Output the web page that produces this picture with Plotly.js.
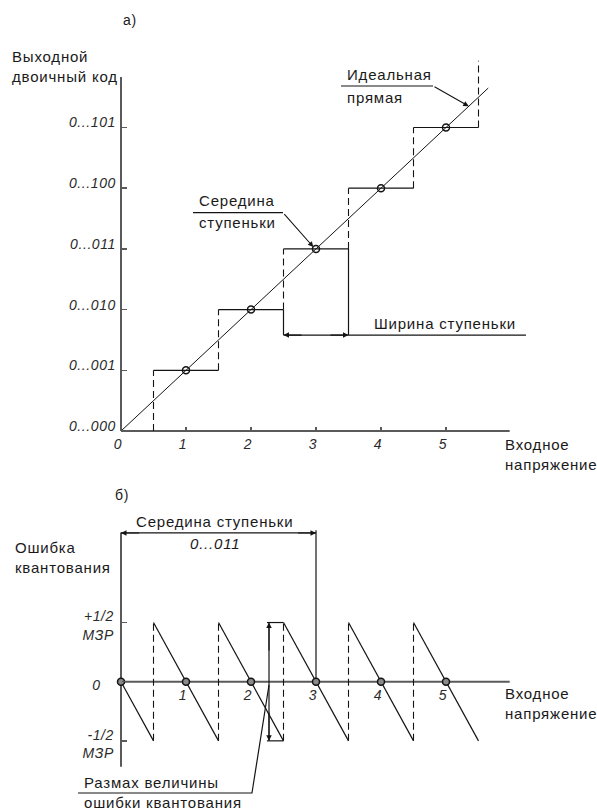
<!DOCTYPE html>
<html><head><meta charset="utf-8">
<script src="https://cdn.plot.ly/plotly-3.0.1.min.js"></script>
<style>
html,body{margin:0;padding:0;background:#fff;}
#chart{width:597px;height:811px;}
text.annotation-text{letter-spacing:0.8px;}
g.ytick text, g.xtick text, g.x2tick text, g.y2tick text{letter-spacing:0.6px;}
</style></head><body><div id="chart"></div>
<script>
// ---------- data: top chart (a) ----------
const codeTicks = [0, 1, 2, 3, 4, 5];
const codeLabels = ['0...000', '0...001', '0...010', '0...011', '0...100', '0...101'];
const inputTicks = [0, 1, 2, 3, 4, 5];
const inputLabels = ['0', '1', '2', '3', '4', '5'];
const stepCode = [1, 2, 3, 4, 5];
const stepLeft = [0.5, 1.5, 2.5, 3.5, 4.5];
const stepRight = [1.5, 2.5, 3.5, 4.5, 5.5];
const riserX = [0.5, 1.5, 2.5, 3.5, 4.5, 5.5];
const riserFrom = [0, 1, 2, 3, 4, 5];
const riserTo = [1, 2, 3, 4, 5, 6.1];
const idealX = [0, 5.65];
const idealY = [0, 5.65];
const midX = [1, 2, 3, 4, 5];
const midY = [1, 2, 3, 4, 5];
const widthLevel = 1.58;
const widthEnd = 6.23;

// ---------- data: bottom chart (б) ----------
const errTicks = [0.5, 0, -0.5];
const errLabels = ['+1/2<br>МЗР', '0\u00a0\u00a0\u00a0', '-1/2<br>МЗР'];
const errXTicks = [1, 2, 3, 4, 5];
const errXLabels = ['1', '2', '3', '4', '5'];
const sawStartX = [0, 0.5, 1.5, 2.5, 3.5, 4.5];
const sawStartY = [0, 0.5, 0.5, 0.5, 0.5, 0.5];
const sawEndX = [0.5, 1.5, 2.5, 3.5, 4.5, 5.5];
const sawEndY = [-0.5, -0.5, -0.5, -0.5, -0.5, -0.5];
const jumpX = [0.5, 1.5, 2.5, 3.5, 4.5];
const jumpLow = -0.5, jumpHigh = 0.5;
const zeroX = [0, 1, 2, 3, 4, 5];
const zeroY = [0, 0, 0, 0, 0, 0];
const midDimLevel = 1.257;
const rangeX = 2.277;

// ---------- helpers ----------
function segs(x1, y1, x2, y2) {
  const X = [], Y = [];
  for (let i = 0; i < x1.length; i++) { X.push(x1[i], x2[i], null); Y.push(y1[i], y2[i], null); }
  return {x: X, y: Y};
}
const INK = '#141414', AX = '#5a5a5a';
const FONT = 'Liberation Sans, Arial, sans-serif';
function line(xy, opts, xa, ya) {
  return Object.assign({type: 'scatter', mode: 'lines', x: xy.x, y: xy.y, xaxis: xa || 'x', yaxis: ya || 'y',
    hoverinfo: 'skip', showlegend: false, line: Object.assign({color: INK, width: 1.2}, opts || {})});
}
const DASH = '7px,4px';

const steps = segs(stepLeft, stepCode, stepRight, stepCode);
const risers = segs(riserX, riserFrom, riserX, riserTo);
const saw = segs(sawStartX, sawStartY, sawEndX, sawEndY);
const jumps = segs(jumpX, jumpX.map(() => jumpLow), jumpX, jumpX.map(() => jumpHigh));

const data = [
  // top axes
  line({x: [0, 5.98], y: [0, 0]}, {color: AX, width: 2}),
  line({x: [0, 0], y: [0, 5.83]}, {color: AX, width: 2}),
  line(steps),
  line(risers, {dash: DASH, width: 1.1}),
  line({x: idealX, y: idealY}, {width: 1}),
  line({x: [stepLeft[2], stepLeft[2], null, stepRight[2], stepRight[2]], y: [widthLevel, 2, null, widthLevel, 3]}),
  line({x: [stepLeft[2], widthEnd], y: [widthLevel, widthLevel]}),
  line({x: [3.385, 4.8], y: [5.684, 5.684]}),
  line({x: [1.108, 2.492], y: [3.596, 3.596]}),
  {type: 'scatter', mode: 'markers', x: midX, y: midY, hoverinfo: 'skip', showlegend: false,
   marker: {symbol: 'circle-open', size: 7, color: INK, line: {width: 1.5, color: INK}}},
  // bottom axes
  line({x: [0, 5.98], y: [0, 0]}, {color: AX, width: 2}, 'x2', 'y2'),
  line({x: [0, 0], y: [-0.72, 1.26]}, {color: AX, width: 2}, 'x2', 'y2'),
  line(saw, {}, 'x2', 'y2'),
  line(jumps, {dash: DASH, width: 1.1}, 'x2', 'y2'),
  line({x: [0, 3], y: [midDimLevel, midDimLevel]}, {}, 'x2', 'y2'),
  line({x: [3, 3], y: [1.28, 0]}, {}, 'x2', 'y2'),
  line({x: [2.246, 2.5, null, 2.246, 2.5, null, rangeX, rangeX], y: [0.5, 0.5, null, -0.5, -0.5, null, -0.5, 0.5]}, {}, 'x2', 'y2'),
  line({x: [-0.662, 2.015, rangeX], y: [-0.941, -0.941, -0.028]}, {}, 'x2', 'y2'),
  {type: 'scatter', mode: 'markers', x: zeroX, y: zeroY, xaxis: 'x2', yaxis: 'y2', hoverinfo: 'skip', showlegend: false,
   marker: {symbol: 'circle', size: 7, color: '#8a8a8a', line: {width: 1.5, color: INK}}}
];

function txt(x, y, text, xref, yref, extra) {
  return Object.assign({x: x, y: y, xref: xref, yref: yref, text: text, showarrow: false,
    xanchor: 'left', yanchor: 'middle', align: 'left', font: {family: FONT, size: 15, color: '#1a1a1a'}}, extra || {});
}
function arr(x, y, ax, ay, xref, yref) {
  return {x: x, y: y, ax: ax, ay: ay, xref: xref, yref: yref, axref: xref, ayref: yref, text: '',
    showarrow: true, arrowhead: 2, arrowsize: 1, arrowwidth: 1.1, arrowcolor: INK, standoff: 0, startstandoff: 0};
}

const annotations = [
  txt(130 / 597, 1 - 20 / 811, 'а)', 'paper', 'paper', {xanchor: 'center', font: {family: FONT, size: 14, color: '#1a1a1a'}}),
  txt(-1.708, 5.997, 'Выходной<br>двоичный код', 'x', 'y'),
  txt(3.446, 5.88, 'Идеальная', 'x', 'y'),
  txt(3.446, 5.50, 'прямая', 'x', 'y'),
  txt(1.169, 3.794, 'Середина', 'x', 'y'),
  txt(1.169, 3.427, 'ступеньки', 'x', 'y'),
  txt(3.86, 1.763, 'Ширина ступеньки', 'x', 'y'),
  txt(5.877, -0.379, 'Входное<br>напряжение', 'x', 'y'),
  arr(5.35, 5.35, 4.8, 5.684, 'x', 'y'),
  arr(2.96, 3.03, 2.492, 3.596, 'x', 'y'),
  arr(stepLeft[2], widthLevel, 2.8, widthLevel, 'x', 'y'),
  arr(stepRight[2], widthLevel, 3.2, widthLevel, 'x', 'y'),

  txt(121.5 / 597, 1 - 495 / 811, 'б)', 'paper', 'paper', {xanchor: 'center', font: {family: FONT, size: 14, color: '#1a1a1a'}}),
  txt(1.446, 1.35, 'Середина ступеньки', 'x2', 'y2', {xanchor: 'center', align: 'center'}),
  txt(1.446, 1.164, '0...011', 'x2', 'y2', {xanchor: 'center', align: 'center', font: {family: FONT, size: 15, style: 'italic', color: '#1a1a1a'}}),
  txt(-1.66, 1.05, 'Ошибка<br>квантования', 'x2', 'y2'),
  txt(5.877, -0.1885, 'Входное<br>напряжение', 'x2', 'y2'),
  txt(-0.6, -0.848, 'Размах величины', 'x2', 'y2'),
  txt(-0.6, -1.025, 'ошибки квантования', 'x2', 'y2'),
  arr(0, midDimLevel, 0.3, midDimLevel, 'x2', 'y2'),
  arr(3, midDimLevel, 2.7, midDimLevel, 'x2', 'y2'),
  arr(rangeX, 0.5, rangeX, 0.25, 'x2', 'y2'),
  arr(rangeX, -0.5, rangeX, -0.25, 'x2', 'y2')
];

const XR = [-1.8615, 7.3231];
const tickFont = {family: FONT, size: 14, style: 'italic', color: '#2a2a2a'};
const common = {showgrid: false, zeroline: false, showline: false, fixedrange: true, tickfont: tickFont, anchor: 'free'};
const layout = {
  width: 597, height: 811, margin: {l: 0, r: 0, t: 0, b: 0},
  paper_bgcolor: '#fff', plot_bgcolor: '#fff', showlegend: false,
  font: {family: FONT, size: 14, color: '#1a1a1a'},
  xaxis: Object.assign({}, common, {domain: [0, 1], range: XR, position: 1 - 431 / 811,
    tickvals: inputTicks, ticktext: inputLabels, ticks: 'inside', ticklen: 4, tickcolor: AX, tickwidth: 1.5,
    ticklabelshift: -3, ticklabelstandoff: 3}),
  yaxis: Object.assign({}, common, {domain: [1 - 475 / 811, 1], range: [-0.7249, 7.1005], position: 121 / 597,
    tickvals: codeTicks, ticktext: codeLabels, ticks: 'inside', ticklen: 5, tickcolor: AX, tickwidth: 1.5,
    ticklabelstandoff: 5, ticklabelshift: -5}),
  xaxis2: Object.assign({}, common, {domain: [0, 1], range: XR, position: 1 - 681.7 / 811,
    tickvals: errXTicks, ticktext: errXLabels, ticks: '', ticklabelshift: -3, ticklabelstandoff: 3}),
  yaxis2: Object.assign({}, common, {domain: [0, 1 - 475 / 811], range: [-1.093, 1.747], position: 121 / 597,
    tickvals: errTicks, ticktext: errLabels, ticks: 'inside', ticklen: 5, tickcolor: AX, tickwidth: 1.5,
    ticklabelstandoff: 7, ticklabelshift: 3}),
  annotations: annotations
};
Plotly.newPlot('chart', data, layout, {staticPlot: true, displayModeBar: false});
</script></body></html>
